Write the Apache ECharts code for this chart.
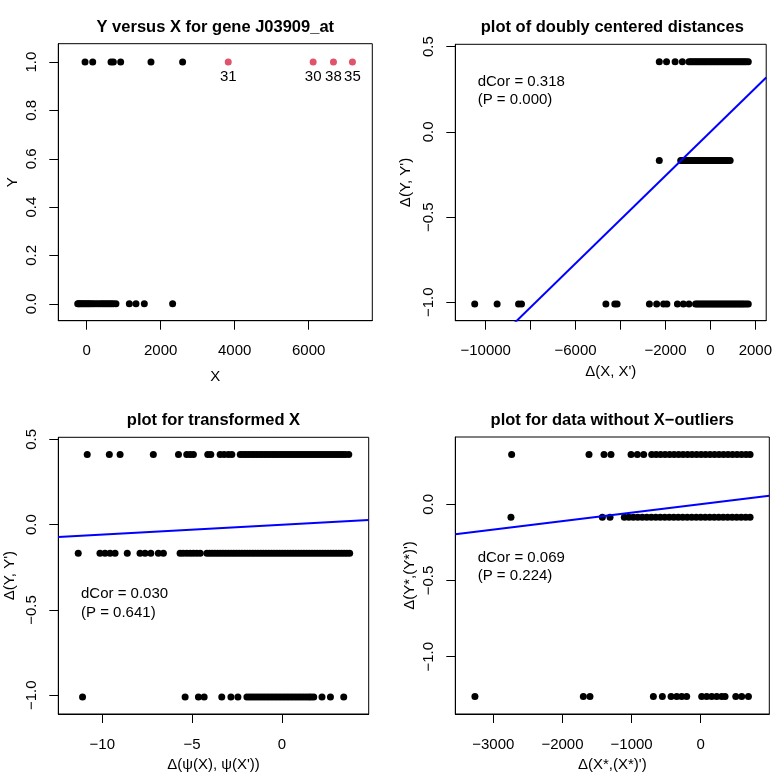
<!DOCTYPE html>
<html><head><meta charset="utf-8">
<script src="https://cdn.jsdelivr.net/npm/echarts@6/dist/echarts.min.js"></script>
<style>html,body{margin:0;padding:0;background:#fff}#c{width:775px;height:775px}</style>
</head><body><div id="c"></div>
<script>
// ---------- Panel 1: Y versus X ----------
const p1ZeroX = [-243,-215,-185,-150,-110,-70,-30,10,50,90,140,190,250,310,370,420,470,520,570,620,670,720,790,1152,1332,1557,2322];
const p1OneX = [-45,162,657,720,918,1737,2592];
const p1OutX = [3825,6120,6669,7182];
const p1OutLabels = ['31','30','38','35'];
const p1XTicks = [0,2000,4000,6000];
const p1YTicks = [0,0.2,0.4,0.6,0.8,1.0];

// ---------- Panel 2: doubly centered distances ----------
const p2RowY = [0.4114,-0.1676,-1.0097];
const p2TopX = [-2274,-1951,-1570,-1247,-954,-880,-805,-730,-655,-585,-510,-440,-365,-290,-220,-150,-75,0,70,145,215,290,360,435,505,580,650,725,795,870,940,1015,1085,1160,1230,1305,1375,1450,1520,1595,1687];
const p2MidX = [-2274,-1320,-1245,-1170,-1095,-1020,-945,-870,-795,-720,-645,-570,-495,-420,-345,-270,-195,-120,-45,30,105,180,255,330,405,480,555,630,705,780,880];
const p2BotX = [-10489,-9491,-8538,-8406,-4650,-4254,-4151,-2714,-2391,-2083,-1936,-1467,-1203,-954,-660,-590,-515,-440,-365,-290,-215,-140,-65,10,85,160,235,310,385,460,535,610,685,760,835,910,985,1060,1135,1210,1285,1360,1435,1510,1600,1687];
const p2Fit = {intercept:0, slope:1.286e-4};
const p2XTicks = [-10000,-8000,-6000,-4000,-2000,0,2000];
const p2XLabels = [-10000,-6000,-2000,0,2000];
const p2YTicks = [-1.0,-0.5,0.0,0.5];

// ---------- Panel 3: transformed X ----------
const p3RowY = [0.4114,-0.1676,-1.0097];
const p3TopX = [-10.84,-9.61,-9.01,-7.16,-5.76,-5.30,-5.11,-4.93,-4.13,-3.96,-3.44,-3.22,-2.98,-2.79,-2.32,-2.17,-2.02,-1.87,-1.72,-1.57,-1.42,-1.27,-1.12,-0.97,-0.82,-0.67,-0.52,-0.37,-0.22,-0.07,0.08,0.23,0.38,0.53,0.68,0.83,0.98,1.13,1.28,1.43,1.58,1.73,1.88,2.03,2.18,2.33,2.48,2.63,2.78,2.93,3.08,3.23,3.38,3.53,3.72];
const p3MidX = [-11.34,-10.13,-9.85,-9.57,-9.29,-8.61,-7.90,-7.62,-7.30,-6.88,-6.60,-5.67,-5.50,-5.30,-5.11,-4.93,-4.74,-4.55,-4.18,-4.03,-3.88,-3.73,-3.58,-3.43,-3.28,-3.13,-2.98,-2.83,-2.68,-2.53,-2.38,-2.23,-2.08,-1.93,-1.78,-1.63,-1.48,-1.33,-1.18,-1.03,-0.88,-0.73,-0.58,-0.43,-0.28,-0.13,0.02,0.17,0.32,0.47,0.62,0.77,0.92,1.07,1.22,1.37,1.52,1.67,1.82,1.97,2.12,2.27,2.42,2.57,2.72,2.87,3.02,3.17,3.32,3.47,3.62,3.77];
const p3BotX = [-11.10,-5.39,-4.65,-4.33,-3.35,-2.84,-2.45,-1.95,-1.80,-1.65,-1.50,-1.35,-1.20,-1.05,-0.90,-0.75,-0.60,-0.45,-0.30,-0.15,0.0,0.15,0.30,0.45,0.60,0.75,0.90,1.05,1.20,1.35,1.50,1.62,1.77,2.23,2.70,3.44];
const p3Fit = {intercept:0, slope:0.00576};
const p3XTicks = [-10,-5,0];
const p3YTicks = [-1.0,-0.5,0.0,0.5];

// ---------- Panel 4: without X-outliers ----------
const p4RowY = [0.3270,-0.0848,-1.2612];
const p4TopX = [-2735,-1616,-1399,-1298,-1008,-917,-825,-709,-645,-580,-515,-450,-385,-320,-255,-190,-125,-60,5,70,135,200,265,330,395,460,525,590,655,714];
const p4MidX = [-2745,-1423,-1312,-1105,-1040,-975,-910,-845,-780,-715,-650,-585,-520,-455,-390,-325,-260,-195,-130,-65,0,65,130,195,260,325,390,455,520,585,650,714];
const p4BotX = [-3266,-1698,-1602,-685,-555,-429,-347,-275,-203,14,86,159,231,303,352,507,593,690];
const p4Fit = {intercept:0.001, slope:5.58e-5};
const p4XTicks = [-3000,-2000,-1000,0];
const p4YTicks = [-1.0,-0.5,0.0];

// ---------- helpers ----------
const FONT = '"Liberation Sans", Arial, Helvetica, sans-serif';
const minus = v => String(v).replace('-', '\u2212');
const fmt1 = v => minus((Math.round(v*10)/10).toFixed(1));
const fmt0 = v => minus(String(v));
const axisLine = {show:true, onZero:false, lineStyle:{color:'#000', width:1}};

function mkX(gi, min, max, ticks, labels, fmt, name, nameGap){
  return {gridIndex:gi, type:'value', position:'bottom', min, max, name, nameLocation:'middle', nameGap,
    nameTextStyle:{color:'#000', fontSize:15, fontFamily:FONT},
    axisLine, splitLine:{show:false},
    axisTick:{show:true, inside:false, length:9, lineStyle:{color:'#000', width:1}, customValues:ticks},
    axisLabel:{show:true, color:'#000', fontSize:15, fontFamily:FONT, margin:23, customValues:labels, formatter:fmt}};
}
function mkY(gi, min, max, ticks, labels, fmt, name, nameGap){
  return {gridIndex:gi, type:'value', position:'left', min, max, name, nameLocation:'middle', nameGap, nameRotate:90,
    nameTextStyle:{color:'#000', fontSize:15, fontFamily:FONT},
    axisLine, splitLine:{show:false},
    axisTick:{show:true, inside:false, length:9, lineStyle:{color:'#000', width:1}, customValues:ticks},
    axisLabel:{show:true, color:'#000', fontSize:15, fontFamily:FONT, margin:19, rotate:90, customValues:labels, formatter:fmt}};
}
function pts(xs, y){ return xs.map(x => [x, y]); }
function sc(ai, data, color){
  return {type:'scatter', xAxisIndex:ai, yAxisIndex:ai, data, symbolSize:7, itemStyle:{color:color||'#000', opacity:1}, silent:true, animation:false};
}
function fitLine(ai, fit, min, max){
  return {type:'line', xAxisIndex:ai, yAxisIndex:ai, data:[[min, fit.intercept+fit.slope*min],[max, fit.intercept+fit.slope*max]],
    showSymbol:false, symbol:'none', lineStyle:{color:'#0000ff', width:2}, clip:true, silent:true, animation:false};
}

const R = {
  p1:{x:[-768,7719], y:[-0.070,1.076]},
  p2:{x:[-11353,2485], y:[-1.108,0.514]},
  p3:{x:[-12.45,4.83], y:[-1.1096,0.512]},
  p4:{x:[-3550,992], y:[-1.376,0.4416]}
};
const gridStyle = {show:true, borderColor:'#000', borderWidth:1, backgroundColor:'transparent', containLabel:false};

const chart = echarts.init(document.getElementById('c'), null, {renderer:'canvas'});
const titleFont = 'bold 16.5px ' + FONT;
const txtFont = '15px ' + FONT;
function gtext(x, y, text, font, align){
  return {type:'text', x, y, style:{text, font, fill:'#000', textAlign:align||'center', textVerticalAlign:'middle'}};
}

chart.setOption({
  animation:false,
  backgroundColor:'#fff',
  grid:[
    Object.assign({left:58.3, top:43.7, width:314, height:277}, gridStyle),
    Object.assign({left:455.3, top:44.3, width:314, height:276.4}, gridStyle),
    Object.assign({left:58.3, top:437.3, width:310.4, height:276.7}, gridStyle),
    Object.assign({left:455.3, top:437, width:314, height:277}, gridStyle)
  ],
  xAxis:[
    mkX(0, R.p1.x[0], R.p1.x[1], p1XTicks, p1XTicks, fmt0, 'X', 49),
    mkX(1, R.p2.x[0], R.p2.x[1], p2XTicks, p2XLabels, fmt0, "\u0394(X, X')", 44),
    mkX(2, R.p3.x[0], R.p3.x[1], p3XTicks, p3XTicks, fmt0, "\u0394(\u03c8(X), \u03c8(X'))", 43),
    mkX(3, R.p4.x[0], R.p4.x[1], p4XTicks, p4XTicks, fmt0, "\u0394(X*,(X*)')", 43)
  ],
  yAxis:[
    mkY(0, R.p1.y[0], R.p1.y[1], p1YTicks, p1YTicks, fmt1, 'Y', 38),
    mkY(1, R.p2.y[0], R.p2.y[1], p2YTicks, p2YTicks, fmt1, "\u0394(Y, Y')", 42),
    mkY(2, R.p3.y[0], R.p3.y[1], p3YTicks, p3YTicks, fmt1, "\u0394(Y, Y')", 41),
    mkY(3, R.p4.y[0], R.p4.y[1], p4YTicks, p4YTicks, fmt1, "\u0394(Y*,(Y*)')", 38)
  ],
  series:[
    sc(0, pts(p1ZeroX, 0)),
    sc(0, pts(p1OneX, 1)),
    Object.assign(sc(0, p1OutX.map((x,i)=>({value:[x,1], label:{show:true, formatter:p1OutLabels[i]}})), '#DF536B'),
      {label:{position:'bottom', distance:4, color:'#000', fontSize:15, fontFamily:FONT}}),
    sc(1, pts(p2TopX, p2RowY[0])), sc(1, pts(p2MidX, p2RowY[1])), sc(1, pts(p2BotX, p2RowY[2])),
    fitLine(1, p2Fit, R.p2.x[0], R.p2.x[1]),
    sc(2, pts(p3TopX, p3RowY[0])), sc(2, pts(p3MidX, p3RowY[1])), sc(2, pts(p3BotX, p3RowY[2])),
    fitLine(2, p3Fit, R.p3.x[0], R.p3.x[1]),
    sc(3, pts(p4TopX, p4RowY[0])), sc(3, pts(p4MidX, p4RowY[1])), sc(3, pts(p4BotX, p4RowY[2])),
    fitLine(3, p4Fit, R.p4.x[0], R.p4.x[1])
  ],
  graphic:[
    gtext(215.3, 27.3, 'Y versus X for gene J03909_at', titleFont),
    gtext(612.3, 27.3, 'plot of doubly centered distances', titleFont),
    gtext(213.5, 420, 'plot for transformed X', titleFont),
    gtext(612.3, 420, 'plot for data without X\u2212outliers', titleFont),
    gtext(477.7, 81.7, 'dCor = 0.318', txtFont, 'left'),
    gtext(477.7, 100, '(P = 0.000)', txtFont, 'left'),
    gtext(81, 594, 'dCor = 0.030', txtFont, 'left'),
    gtext(81, 612.7, '(P = 0.641)', txtFont, 'left'),
    gtext(477.7, 558.3, 'dCor = 0.069', txtFont, 'left'),
    gtext(477.7, 576, '(P = 0.224)', txtFont, 'left')
  ]
});
</script></body></html>
